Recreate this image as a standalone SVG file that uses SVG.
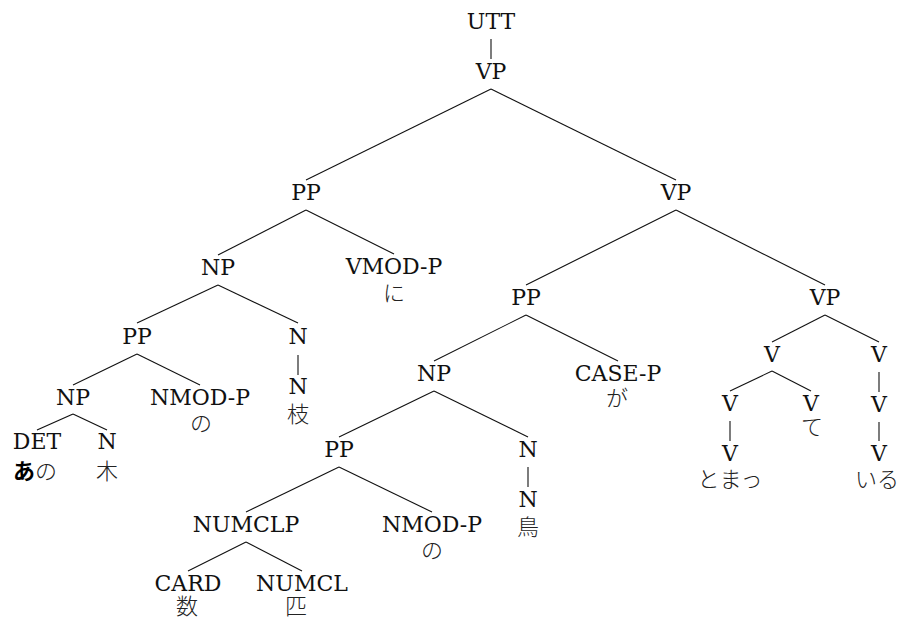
<svg xmlns="http://www.w3.org/2000/svg" width="899" height="619" viewBox="0 0 899 619">
<style>
.l{font-family:'DejaVu Serif',serif;font-size:22px;fill:#111;text-anchor:middle}
.j{font-family:'Noto Sans CJK JP','Noto Sans CJK SC',sans-serif;font-size:22px;fill:#222;text-anchor:middle;font-weight:300}
.b{font-weight:700;fill:#000}
#edges line{stroke:#111;stroke-width:1.1;fill:none}
</style>
<rect width="899" height="619" fill="#fff"/>
<g id="edges">
<line x1="491" y1="39" x2="491" y2="59"/>
<line x1="491" y1="89" x2="306" y2="180"/>
<line x1="491" y1="89" x2="676" y2="180"/>
<line x1="306" y1="210" x2="218" y2="255"/>
<line x1="306" y1="210" x2="394" y2="254"/>
<line x1="218" y1="285" x2="137" y2="323"/>
<line x1="218" y1="285" x2="298" y2="323"/>
<line x1="298" y1="355" x2="298" y2="375"/>
<line x1="137" y1="354" x2="73" y2="385"/>
<line x1="137" y1="354" x2="200" y2="385"/>
<line x1="73" y1="414" x2="37" y2="430"/>
<line x1="73" y1="414" x2="107" y2="430"/>
<line x1="676" y1="210" x2="526" y2="285"/>
<line x1="676" y1="210" x2="825" y2="285"/>
<line x1="526" y1="315" x2="434" y2="361"/>
<line x1="526" y1="315" x2="618" y2="361"/>
<line x1="434" y1="391" x2="339" y2="437"/>
<line x1="434" y1="391" x2="528" y2="437"/>
<line x1="528" y1="467" x2="528" y2="487"/>
<line x1="339" y1="467" x2="246" y2="512"/>
<line x1="339" y1="467" x2="432" y2="512"/>
<line x1="246" y1="542" x2="188" y2="571"/>
<line x1="246" y1="542" x2="302" y2="571"/>
<line x1="825" y1="315" x2="772" y2="342"/>
<line x1="825" y1="315" x2="879" y2="342"/>
<line x1="772" y1="371" x2="730" y2="391"/>
<line x1="772" y1="371" x2="811" y2="391"/>
<line x1="730" y1="421" x2="730" y2="441"/>
<line x1="879" y1="372" x2="879" y2="392"/>
<line x1="879" y1="422" x2="879" y2="441"/>
</g>
<g id="nodes">
<g id="n-utt"><text class="l" x="491" y="29">UTT</text></g>
<g id="n-vp1"><text class="l" x="491" y="79">VP</text></g>
<g id="n-pp1"><text class="l" x="306" y="200">PP</text></g>
<g id="n-vp2"><text class="l" x="676" y="200">VP</text></g>
<g id="n-np1"><text class="l" x="218" y="275">NP</text></g>
<g id="n-vmodp"><text class="l" x="394" y="274">VMOD-P</text><text class="j" x="394" y="301">に</text></g>
<g id="n-pp2"><text class="l" x="137" y="344">PP</text></g>
<g id="n-n1"><text class="l" x="298" y="344">N</text></g>
<g id="n-n2"><text class="l" x="298" y="394">N</text><text class="j" x="298" y="422">枝</text></g>
<g id="n-np2"><text class="l" x="73" y="405">NP</text></g>
<g id="n-nmodp1"><text class="l" x="200" y="405">NMOD-P</text><text class="j" x="201" y="431">の</text></g>
<g id="n-det"><text class="l" x="37" y="449">DET</text><text class="j" x="35" y="479"><tspan class="b">あ</tspan>の</text></g>
<g id="n-n3"><text class="l" x="107" y="449">N</text><text class="j" x="107" y="479">木</text></g>
<g id="n-pp3"><text class="l" x="526" y="305">PP</text></g>
<g id="n-vp3"><text class="l" x="825" y="305">VP</text></g>
<g id="n-np3"><text class="l" x="434" y="381">NP</text></g>
<g id="n-casep"><text class="l" x="618" y="381">CASE-P</text><text class="j" x="617" y="406">が</text></g>
<g id="n-pp4"><text class="l" x="339" y="457">PP</text></g>
<g id="n-n4"><text class="l" x="528" y="457">N</text></g>
<g id="n-n5"><text class="l" x="528" y="507">N</text><text class="j" x="528" y="535">鳥</text></g>
<g id="n-numclp"><text class="l" x="246" y="532">NUMCLP</text></g>
<g id="n-nmodp2"><text class="l" x="432" y="532">NMOD-P</text><text class="j" x="432" y="558">の</text></g>
<g id="n-card"><text class="l" x="188" y="591">CARD</text><text class="j" x="187" y="614">数</text></g>
<g id="n-numcl"><text class="l" x="302" y="591">NUMCL</text><text class="j" x="296" y="614">匹</text></g>
<g id="n-v1"><text class="l" x="772" y="362">V</text></g>
<g id="n-v2"><text class="l" x="879" y="362">V</text></g>
<g id="n-v3"><text class="l" x="730" y="411">V</text></g>
<g id="n-v4"><text class="l" x="811" y="411">V</text><text class="j" x="812" y="435">て</text></g>
<g id="n-v5"><text class="l" x="879" y="412">V</text></g>
<g id="n-v6"><text class="l" x="730" y="461">V</text><text class="j" x="730" y="487">とまっ</text></g>
<g id="n-v7"><text class="l" x="879" y="461">V</text><text class="j" x="877" y="487">いる</text></g>
</g>
</svg>
